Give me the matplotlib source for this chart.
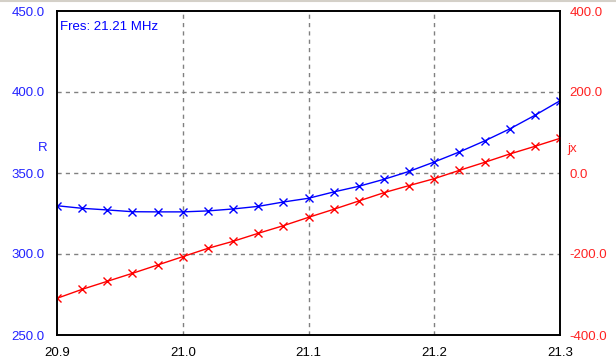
import numpy as np
import matplotlib.pyplot as plt
from matplotlib.lines import Line2D

plt.rcParams['font.family'] = ['Liberation Sans', 'DejaVu Sans']

# frequency (MHz)
freq = [20.90, 20.92, 20.94, 20.96, 20.98, 21.00, 21.02, 21.04, 21.06, 21.08, 21.10,
        21.12, 21.14, 21.16, 21.18, 21.20, 21.22, 21.24, 21.26, 21.28, 21.30]
# resistance R (ohm)
r_vals = [329.8, 328.2, 327.2, 326.1, 326.0, 326.0, 326.6, 327.8, 329.4, 332.1, 334.4,
          338.3, 341.8, 346.1, 351.0, 356.8, 363.0, 369.8, 377.2, 385.6, 394.6]
# reactance jx (ohm)
jx_vals = [-309.4, -287.2, -267.4, -247.7, -227.2, -206.6, -186.0, -168.7, -148.9, -130.1, -109.5,
           -89.7, -69.1, -48.6, -31.0, -14.0, 6.6, 26.3, 46.9, 65.8, 85.6]

blue = '#0000ff'
red = '#ff0000'
lblue = '#2222ff'
lred = '#ff2222'

fig = plt.figure(figsize=(6.16, 3.63), dpi=100)
ax = fig.add_axes([57/616, 28/363, 503/616, 324/363])
ax2 = ax.twinx()

ax.plot(freq, r_vals, color=blue, lw=1, marker='x', ms=5.5, mew=1)
ax2.plot(freq, jx_vals, color=red, lw=1, marker='x', ms=5.5, mew=1)

ax.set_xlim(20.9, 21.3)
ax.set_ylim(250, 450)
ax2.set_ylim(-400, 400)

ax.set_xticks([20.9, 21.0, 21.1, 21.2, 21.3])
ax.set_xticklabels(['20.9', '21.0', '21.1', '21.2', '21.3'])
ax.set_yticks([250, 300, 350, 400, 450])
ax.set_yticklabels(['250.0', '300.0', '350.0', '400.0', '450.0'])
ax2.set_yticks([-400, -200, 0, 200, 400])
ax2.set_yticklabels(['-400.0', '-200.0', '0.0', '200.0', '400.0'])

ax.tick_params(axis='x', length=0, pad=9, labelsize=9.5, labelcolor='black')
ax.tick_params(axis='y', length=0, pad=9, labelsize=9.5, labelcolor=lblue)
ax2.tick_params(axis='y', length=0, pad=7, labelsize=9.5, labelcolor=lred)

for x in [21.0, 21.1, 21.2]:
    ax.axvline(x, color='#808080', lw=1, ls=(0, (3, 3)), zorder=0)
for y in [300, 350, 400]:
    ax.axhline(y, color='#808080', lw=1, ls=(0, (3, 3)), zorder=0)

for a in (ax, ax2):
    for s in a.spines.values():
        s.set_color('black')
        s.set_linewidth(1.2)

ax.text(-0.028, 0.577, 'R', transform=ax.transAxes, color=lblue, fontsize=9.5,
        ha='center', va='center')
ax2.text(1.025, 0.574, 'jx', transform=ax.transAxes, color=lred, fontsize=9.5,
         ha='center', va='center')
ax.text(0.005, 0.951, 'Fres: 21.21 MHz', transform=ax.transAxes, color=blue,
        fontsize=9.5, ha='left', va='center')

fig.add_artist(Line2D([0, 1], [0.998, 0.998], transform=fig.transFigure,
                      color='#d4d0c8', lw=1.5))

fig.savefig('out.png', dpi=100)
